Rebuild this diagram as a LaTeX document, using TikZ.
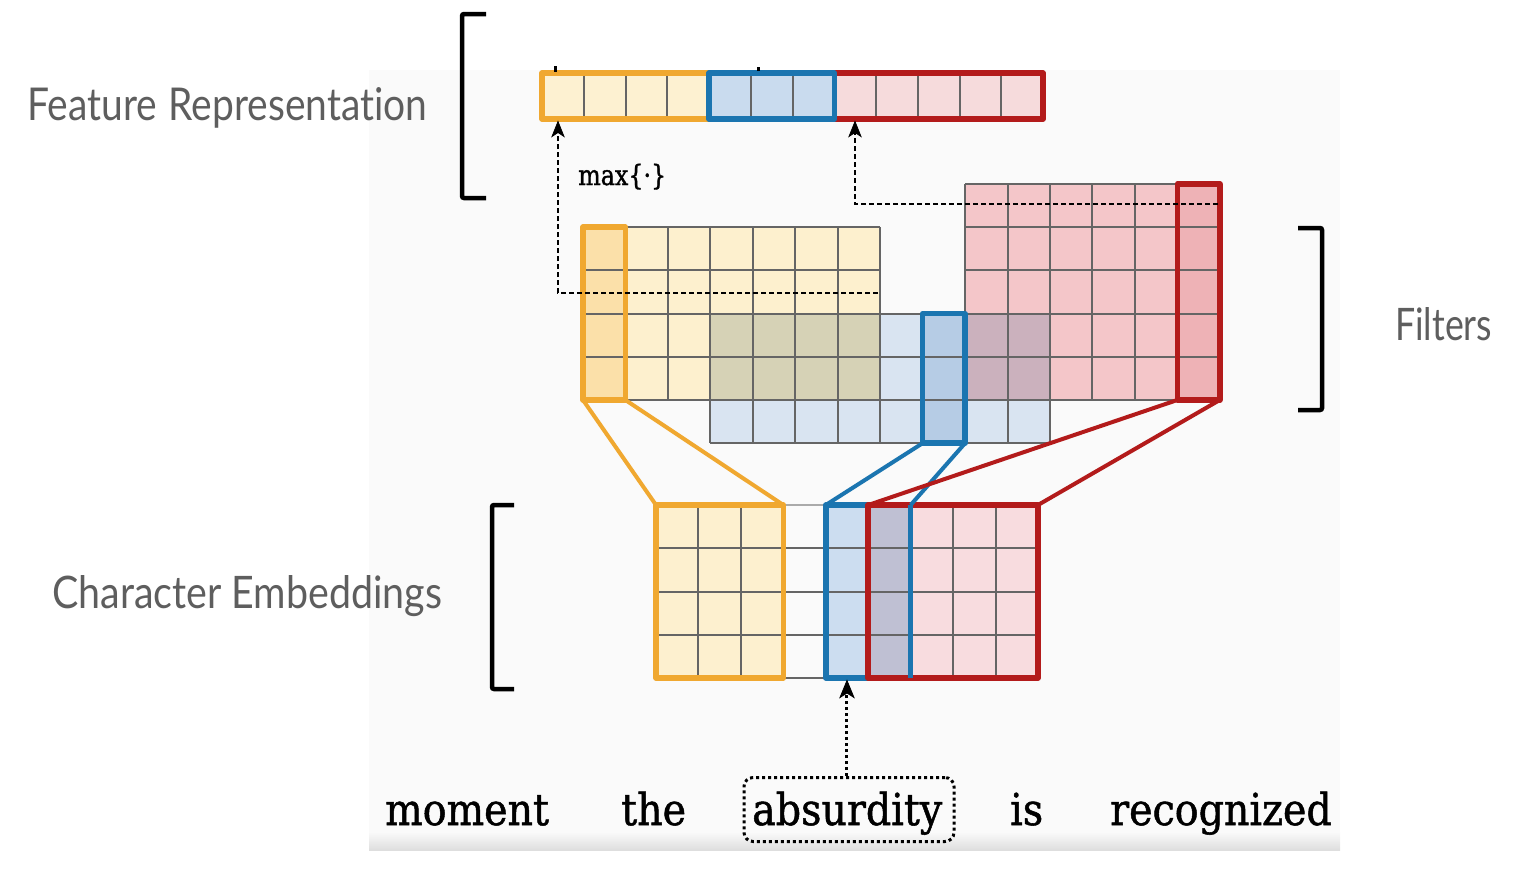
\documentclass[tikz,border=0pt]{standalone}
\usepackage{fontspec}
\setmainfont{DejaVu Serif}
\newfontfamily\wordfont[FakeBold=1.2]{DejaVu Serif}
\newfontfamily\labelfont[Ligatures=NoCommon]{Lato}
\definecolor{orB}{HTML}{F0A830}
\definecolor{blB}{HTML}{1B75B0}
\definecolor{rdB}{HTML}{B31B1B}
\definecolor{orF}{HTML}{FDF0CE}
\definecolor{orH}{HTML}{FBE0A9}
\definecolor{blF}{HTML}{D9E4F1}
\definecolor{blH}{HTML}{B6CCE5}
\definecolor{rdF}{HTML}{F4C6C9}
\definecolor{rdH}{HTML}{EEB2B6}
\definecolor{obOv}{HTML}{D6D2B6}
\definecolor{rbOv}{HTML}{CBB1BD}
\definecolor{eO}{HTML}{FDF0CF}
\definecolor{eB}{HTML}{CCDDF0}
\definecolor{eBR}{HTML}{BFC0D3}
\definecolor{eR}{HTML}{F8DCDF}
\definecolor{barO}{HTML}{FDF1D1}
\definecolor{barB}{HTML}{C9DBEE}
\definecolor{barR}{HTML}{F6DBDC}
\definecolor{gridc}{HTML}{656565}
\definecolor{labc}{HTML}{5E5E5E}
\definecolor{panel}{HTML}{FAFAFA}
\newcommand\FX[1]{(583+42.45*(#1))}
\newcommand\FY[1]{(184+43.2*(#1))}
\newcommand\EX[1]{(656+42.44*(#1))}
\newcommand\EY[1]{(505+43.25*(#1))}
\newcommand\BX[1]{(542+41.75*(#1))}
\newcommand\narrowtext[1]{\scalebox{0.9}[1]{#1}}
\tikzset{
  gridline/.style={draw=gridc, line width=2pt},
  boxnode/.style={rectangle, inner sep=0pt, outer sep=0pt, line width=5.5pt, line join=round},
  proj/.style={line width=4pt},
  dashline/.style={line width=1.8pt, dash pattern=on 5pt off 3pt},
  dotline/.style={line width=3pt, dash pattern=on 3pt off 3pt},
  tiphead/.style={fill=black, draw=black, line width=0.8pt, line join=miter},
  brk/.style={line width=4.5pt, black, rounded corners=2pt},
  word/.style={font=\wordfont\fontsize{44}{44}\selectfont, inner sep=0pt, anchor=base west},
  lab/.style={font=\labelfont\fontsize{46}{46}\selectfont, text=labc, inner sep=0pt, anchor=base west}
}
\begin{document}
\begin{tikzpicture}[x=1pt,y=-1pt]
\useasboundingbox (0,0) rectangle (1536,876);
% background panel of the pasted figure
\fill[panel] (369,70) rectangle (1340,850);
\shade[top color=panel, bottom color=black!13] (369,832) rectangle (1340,850);

% ---------- filters ----------
% orange filter
\fill[orF] ({\FX{0}},{\FY{1}}) rectangle ({\FX{7}},{\FY{5}});
\fill[orH] ({\FX{0}},{\FY{1}}) rectangle ({\FX{1}},{\FY{5}});
\foreach \i in {0,...,7} \draw[gridline] ({\FX{\i}},{\FY{1}}) -- ({\FX{\i}},{\FY{5}});
\foreach \j in {1,...,5} \draw[gridline] ({\FX{0}},{\FY{\j}}) -- ({\FX{7}},{\FY{\j}});
% blue filter
\fill[blF] ({\FX{3}},{\FY{3}}) rectangle ({\FX{11}},{\FY{6}});
\fill[obOv] ({\FX{3}},{\FY{3}}) rectangle ({\FX{7}},{\FY{5}});
\fill[blH] ({\FX{8}},{\FY{3}}) rectangle ({\FX{9}},{\FY{6}});
% red filter
\fill[rdF] ({\FX{9}},{\FY{0}}) rectangle ({\FX{15}},{\FY{5}});
\fill[rbOv] ({\FX{9}},{\FY{3}}) rectangle ({\FX{11}},{\FY{5}});
\fill[rdH] ({\FX{14}},{\FY{0}}) rectangle ({\FX{15}},{\FY{5}});
\foreach \i in {3,...,11} \draw[gridline] ({\FX{\i}},{\FY{3}}) -- ({\FX{\i}},{\FY{6}});
\foreach \j in {3,...,6} \draw[gridline] ({\FX{3}},{\FY{\j}}) -- ({\FX{11}},{\FY{\j}});
\foreach \i in {9,...,15} \draw[gridline] ({\FX{\i}},{\FY{0}}) -- ({\FX{\i}},{\FY{5}});
\foreach \j in {0,...,5} \draw[gridline] ({\FX{9}},{\FY{\j}}) -- ({\FX{15}},{\FY{\j}});
% highlighted filter columns
\node[boxnode, draw=orB, minimum width=42.45pt, minimum height=172.8pt] (ohl) at ({\FX{0.5}},{\FY{3}}) {};
\node[boxnode, draw=blB, minimum width=42.45pt, minimum height=129.6pt] (bhl) at ({\FX{8.5}},{\FY{4.5}}) {};
\node[boxnode, draw=rdB, minimum width=42.45pt, minimum height=216pt] (rhl) at ({\FX{14.5}},{\FY{2.5}}) {};

% ---------- character embeddings ----------
\fill[eO] ({\EX{0}},{\EY{0}}) rectangle ({\EX{3}},{\EY{4}});
\fill[eB] ({\EX{4}},{\EY{0}}) rectangle ({\EX{5}},{\EY{4}});
\fill[eBR] ({\EX{5}},{\EY{0}}) rectangle ({\EX{6}},{\EY{4}});
\fill[eR] ({\EX{6}},{\EY{0}}) rectangle ({\EX{9}},{\EY{4}});
\foreach \k in {1,2,6,7,8} \draw[gridline] ({\EX{\k}},{\EY{0}}) -- ({\EX{\k}},{\EY{4}});
\draw[draw=gridc!55, line width=2pt] ({\EX{3}},{\EY{0}}) -- ({\EX{4}},{\EY{0}});
\foreach \m in {1,2,3} \draw[gridline] ({\EX{0}},{\EY{\m}}) -- ({\EX{9}},{\EY{\m}});
\draw[gridline] ({\EX{3}},{\EY{4}}) -- ({\EX{4}},{\EY{4}});
\node[boxnode, draw=orB, minimum width=127.32pt, minimum height=173pt] (oemb) at ({\EX{1.5}},{\EY{2}}) {};
\node[boxnode, draw=blB, minimum width=84.88pt, minimum height=173pt] (bemb) at ({\EX{5}},{\EY{2}}) {};
\node[boxnode, draw=rdB, minimum width=169.76pt, minimum height=173pt] (remb) at ({\EX{7}},{\EY{2}}) {};
\draw[blB, line width=5.5pt] ({\EX{6}},{\EY{0}}) -- ({\EX{6}},{\EY{4}});
\coordinate (wtarget) at ({\EX{4.5}},{\EY{4}});

% ---------- projections ----------
\draw[proj, orB] (ohl.south west) -- (oemb.north west);
\draw[proj, orB] (ohl.south east) -- (oemb.north east);
\draw[proj, blB] (bhl.south west) -- (bemb.north west);
\draw[proj, blB] (bhl.south east) -- (bemb.north east);
\draw[proj, rdB] (rhl.south west) -- (remb.north west);
\draw[proj, rdB] (rhl.south east) -- (remb.north east);

% ---------- feature representation ----------
\fill[barO] ({\BX{0}},73) rectangle ({\BX{4}},119);
\fill[barB] ({\BX{4}},73) rectangle ({\BX{7}},119);
\fill[barR] ({\BX{7}},73) rectangle ({\BX{12}},119);
\foreach \k in {1,2,3,5,6,8,9,10,11} \draw[gridline] ({\BX{\k}},73) -- ({\BX{\k}},119);
\node[boxnode, draw=orB, minimum width=167pt, minimum height=46pt] (obar) at ({\BX{2}},96) {};
\node[boxnode, draw=rdB, minimum width=208.75pt, minimum height=46pt] (rbar) at ({\BX{9.5}},96) {};
\node[boxnode, draw=blB, minimum width=125.25pt, minimum height=46pt] (bbar) at ({\BX{5.5}},96) {};
\fill[black] (554,66) rectangle (557,72);
\fill[black] (757,67) rectangle (760,71);

% ---------- max pooling arrows ----------
\coordinate (ostart) at (878,293);
\coordinate (oturn) at (558,293);
\coordinate (otip) at ([yshift=-2.5pt]oturn |- obar.south);
\coordinate (rstart) at (1218,204);
\coordinate (rturn) at (855,204);
\coordinate (rtip) at ([yshift=-2.5pt]rturn |- rbar.south);
\draw[dashline] (ostart) -- (oturn) -- ([yshift=-10pt]otip);
\draw[tiphead] (otip) -- ++(-6,15) -- ++(6,-4) -- ++(6,4) -- cycle;
\draw[dashline] (rstart) -- (rturn) -- ([yshift=-10pt]rtip);
\draw[tiphead] (rtip) -- ++(-6,15) -- ++(6,-4) -- ++(6,4) -- cycle;
\node[font=\wordfont\fontsize{28}{28}\selectfont, anchor=base west, inner sep=0pt] (maxlab) at (578,185) {\scalebox{0.85}[1]{max\{·\}}};

% ---------- words ----------
\node[word] (w1) at (385,825) {\narrowtext{moment}};
\node[word] (w2) at (621,825) {\narrowtext{the}};
\node[word] (w3) at (752,825) {\narrowtext{absurdity}};
\node[word] (w4) at (1010,825) {\narrowtext{is}};
\node[word] (w5) at (1110,825) {\narrowtext{recognized}};
\node[draw, rectangle, rounded corners=9pt, line width=3pt, dash pattern=on 3pt off 3pt,
      minimum width=210pt, minimum height=64pt, inner sep=0pt] (wbox) at (849,809.5) {};
\coordinate (wtip) at ([yshift=-2.5pt]wtarget);
\draw[dotline] (wbox.north -| wtarget) -- ([yshift=-12pt]wtip);
\draw[tiphead] (wtip) -- ++(-7,17) -- ++(7,-4.5) -- ++(7,4.5) -- cycle;

% ---------- brackets and labels ----------
\draw[brk] (486,14) -- (462,14) -- (462,198) -- (486,198);
\draw[brk] (1298,228) -- (1322,228) -- (1322,410) -- (1298,410);
\draw[brk] (514,505) -- (492,505) -- (492,689) -- (514,689);
\node[lab] (lfeat) at (27,120) {\resizebox{400pt}{33pt}{Feature\hspace{0.3em}Representation}};
\node[lab] (lfilt) at (1395,340) {\resizebox{97pt}{33pt}{Filters}};
\node[lab] (lemb) at (52,608) {\resizebox{390pt}{33pt}{Character Embeddings}};
\end{tikzpicture}
\end{document}
